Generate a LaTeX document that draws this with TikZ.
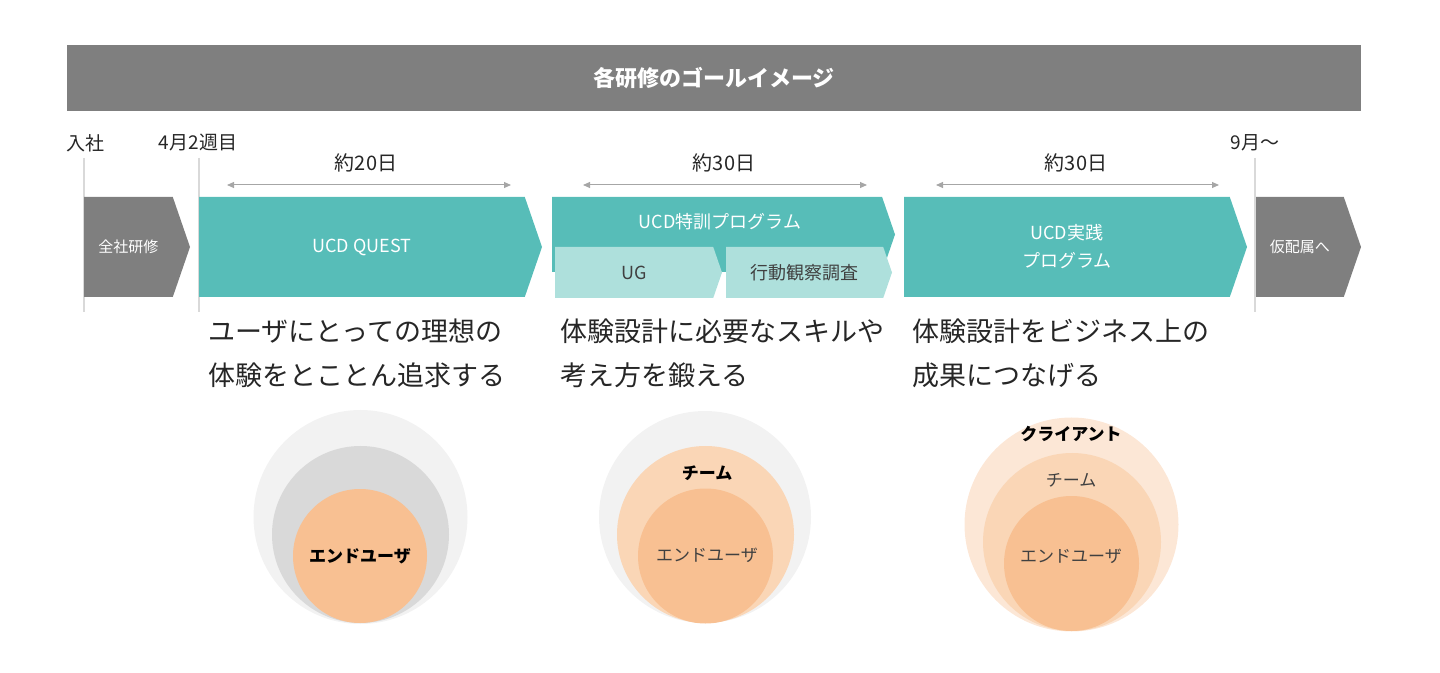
\documentclass[tikz,border=0pt]{standalone}
\usepackage{fontspec}
\setmainfont{Noto Sans CJK JP}
\usepackage{tikz}
\usetikzlibrary{shapes.symbols, arrows.meta, positioning}
\definecolor{bargrey}{RGB}{127,127,127}
\definecolor{ucdteal}{RGB}{87,189,184}
\definecolor{lightteal}{RGB}{174,224,220}
\definecolor{tickgrey}{RGB}{217,217,217}
\definecolor{dimgrey}{RGB}{166,166,166}
\definecolor{textdark}{RGB}{38,38,38}
\definecolor{subtext}{RGB}{64,64,64}
\definecolor{ringpale}{RGB}{242,242,242}
\definecolor{ringgrey}{RGB}{217,217,217}
\definecolor{peachpale}{RGB}{252,231,214}
\definecolor{peachmid}{RGB}{250,214,182}
\definecolor{peachdeep}{RGB}{248,192,146}
\tikzset{
  chevron/.style={signal, signal to=east, signal pointer angle=142,
    inner sep=0pt, outer sep=0pt, anchor=west, minimum height=100pt},
  greychev/.style={chevron, fill=bargrey, text=white,
    font=\fontsize{15}{18}\selectfont},
  tealchev/.style={chevron, fill=ucdteal, text=white,
    font=\fontsize{18}{28}\selectfont},
  subchev/.style={chevron, fill=lightteal, text=subtext,
    minimum height=51pt, font=\fontsize{18}{22}\selectfont},
  datelabel/.style={font=\fontsize{19}{22}\selectfont, text=textdark, inner sep=0pt},
  spanlabel/.style={font=\fontsize{20}{22}\selectfont, text=textdark, inner sep=0pt},
  dimarrow/.style={{Triangle[length=3.5pt,width=3pt]}-{Triangle[length=3.5pt,width=3pt]},
    draw=dimgrey, line width=0.5pt},
  tickline/.style={draw=tickgrey, line width=0.75pt},
  goal/.style={anchor=west, align=left, inner sep=0pt,
    font=\fontsize{27}{44}\selectfont, text=textdark},
  ring/.style={circle, inner sep=0pt, outer sep=0pt},
  ringlabel/.style={font=\fontsize{17}{20}\selectfont, text=subtext, inner sep=0pt},
  ringbold/.style={font=\fontsize{17}{20}\selectfont\bfseries, text=black, inner sep=0pt}
}
\begin{document}
\begin{tikzpicture}[x=1pt, y=-1pt, scale=0.5, transform shape]
  \useasboundingbox (0,0) rectangle (1440,673);

  % Header
  \node[fill=bargrey, minimum width=1294pt, minimum height=66pt, inner sep=0pt,
    text=white, font=\fontsize{22}{26}\selectfont\bfseries] (title) at (714,78) {各研修のゴールイメージ};

  % Timeline marks
  \node[datelabel] (nyusha) at (85.5,143) {入社};
  \node[datelabel] (april) at (198,143) {4月2週目};
  \node[datelabel] (sept) at (1255,143) {9月〜};
  \coordinate (t0) at (84,158);
  \coordinate (t1) at (199,158);
  \coordinate (t2) at (1255,158);
  \draw[tickline] (t0) -- ++(0,154);
  \draw[tickline] (t1) -- ++(0,154);
  \draw[tickline] (t2) -- ++(0,154);

  % Durations
  \node[spanlabel] (d1) at (366,163) {約20日};
  \node[spanlabel] (d2) at (724,163) {約30日};
  \node[spanlabel] (d3) at (1076,163) {約30日};
  \coordinate (d1l) at (227,185); \coordinate (d1r) at (511,185);
  \coordinate (d2l) at (583,185); \coordinate (d2r) at (867,185);
  \coordinate (d3l) at (936,185); \coordinate (d3r) at (1219,185);
  \draw[dimarrow] (d1l) -- (d1r);
  \draw[dimarrow] (d2l) -- (d2r);
  \draw[dimarrow] (d3l) -- (d3r);

  % Phases
  \node[greychev, minimum width=106pt] (zensha) at (84,247) {全社研修};
  \node[tealchev, minimum width=343pt] (quest) at (199,247) {UCD QUEST};
  \node[tealchev, minimum width=343pt, minimum height=75pt] (tokkun) at (552,234.5) {};
  \node[font=\fontsize{18}{22}\selectfont, text=white, inner sep=0pt] (tokkunlbl) at (720,222) {UCD特訓プログラム};
  \node[subchev, minimum width=167pt] (ug) at (555,272.5) {UG};
  \node[subchev, minimum width=166pt] (kodo) at (726,272.5) {行動観察調査};
  \node[tealchev, minimum width=343pt, align=center] (jissen) at (904,247) {UCD実践\\プログラム};
  \node[greychev, minimum width=105pt] (karihaizoku) at (1256,247) {仮配属へ};

  % Goals
  \node[goal] (goal1) at (208,353) {ユーザにとっての理想の\\体験をとことん追求する};
  \node[goal] (goal2) at (560,353) {体験設計に必要なスキルや\\考え方を鍛える};
  \node[goal] (goal3) at (912,353) {体験設計をビジネス上の\\成果につなげる};

  % Scope circles
  \node[ring, fill=ringpale, minimum size=214pt] (c1out) at (360.5,517) {};
  \node[ring, fill=ringgrey, minimum size=177pt] (c1mid) at (360.5,534.5) {};
  \node[ring, fill=peachdeep, minimum size=134pt] (c1in) at (360,556) {};
  \node[ringbold] (c1user) at (360,556) {エンドユーザ};

  \node[ring, fill=ringpale, minimum size=212pt] (c2out) at (705,517) {};
  \node[ring, fill=peachmid, minimum size=177pt] (c2mid) at (705.5,534.5) {};
  \node[ring, fill=peachdeep, minimum size=135pt] (c2in) at (705.5,556) {};
  \node[ringbold] (c2team) at (707,473) {チーム};
  \node[ringlabel] (c2user) at (707,555) {エンドユーザ};

  \node[ring, fill=peachpale, minimum size=214pt] (c3out) at (1071.5,524.5) {};
  \node[ring, fill=peachmid, minimum size=178pt] (c3mid) at (1072,542) {};
  \node[ring, fill=peachdeep, minimum size=135pt] (c3in) at (1071.5,563.5) {};
  \node[ringbold] (c3client) at (1071,434) {クライアント};
  \node[ringlabel] (c3team) at (1071,480) {チーム};
  \node[ringlabel] (c3user) at (1071,556) {エンドユーザ};
\end{tikzpicture}
\end{document}
